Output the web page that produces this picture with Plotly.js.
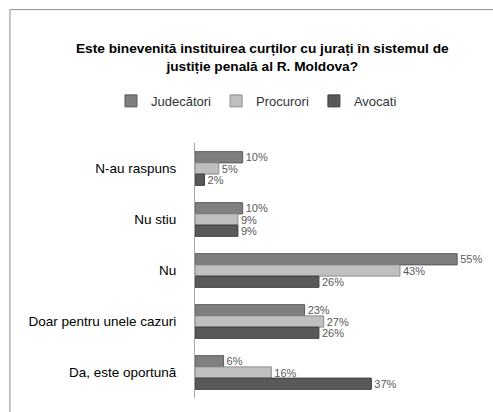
<!DOCTYPE html>
<html>
<head>
<meta charset="utf-8">
<script src="https://cdn.plot.ly/plotly-3.0.1.min.js"></script>
<style>html,body{margin:0;padding:0;background:#fff;}#chart{width:493px;height:412px;}</style>
</head>
<body>
<div id="chart"></div>
<script>
const categories = ['N-au raspuns', 'Nu stiu', 'Nu', 'Doar pentru unele cazuri', 'Da, este oportună'];
const judecatori = [10, 10, 55, 23, 6];
const procurori = [5, 9, 43, 27, 16];
const avocati = [2, 9, 26, 26, 37];
const seriesNames = ['Judecători', 'Procurori', 'Avocati'];
const seriesColors = ['#7f7f7f', '#bfbfbf', '#595959'];
const seriesLines = ['#595959', '#8c8c8c', '#3f3f3f'];

const allValues = [judecatori, procurori, avocati];
const traces = allValues.map((vals, i) => ({
  type: 'bar',
  orientation: 'h',
  name: seriesNames[i],
  y: categories,
  x: vals,
  text: vals.map(v => v + '%'),
  textposition: 'outside',
  constraintext: 'none',
  cliponaxis: false,
  textfont: {family: 'Liberation Sans', size: 11, color: '#595959'},
  marker: {color: seriesColors[i], line: {color: seriesLines[i], width: 1}},
  hoverinfo: 'none'
}));

const layout = {
  width: 493, height: 412,
  margin: {l: 195, r: 12, t: 143, b: 14},
  paper_bgcolor: '#fff', plot_bgcolor: '#fff',
  font: {family: 'Liberation Sans', size: 13, color: '#000'},
  barmode: 'group',
  bargap: 0.34,
  bargroupgap: 0,
  showlegend: true,
  title: {
    text: '<b>Este binevenită instituirea curților cu jurați în sistemul de<br>justiție penală al R. Moldova?</b>',
    font: {family: 'Liberation Sans', size: 13.7, color: '#000'},
    x: 0.532, xanchor: 'center', xref: 'container',
    y: 0.872, yanchor: 'top', yref: 'container'
  },
  legend: {
    orientation: 'h',
    x: 0.215, xanchor: 'center',
    y: 1.165, yanchor: 'middle',
    font: {family: 'Liberation Sans', size: 13, color: '#333'},
    itemwidth: 30,
    traceorder: 'normal'
  },
  xaxis: {range: [0, 60], visible: false, showgrid: false, zeroline: false, fixedrange: true},
  yaxis: {
    autorange: 'reversed',
    showline: true, linecolor: '#a6a6a6', linewidth: 1,
    ticks: '', ticklabelstandoff: 15,
    tickfont: {family: 'Liberation Sans', size: 13.5, color: '#000'},
    showgrid: false, zeroline: false
  },
  shapes: [{
    type: 'rect', xref: 'paper', yref: 'paper',
    x0: -0.647, x1: 1.2, y0: -0.3, y1: 1.523,
    line: {color: '#8c8c8c', width: 1}, fillcolor: 'rgba(0,0,0,0)', layer: 'below'
  }]
};

Plotly.newPlot('chart', traces, layout, {displayModeBar: false, staticPlot: true});
</script>
</body>
</html>
